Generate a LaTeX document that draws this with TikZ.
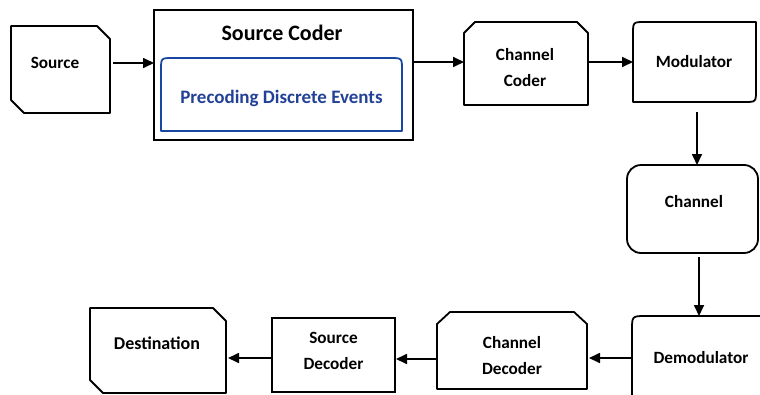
\documentclass[tikz,border=0pt]{standalone}
\usepackage{fontspec}
\setmainfont{Carlito}
\usetikzlibrary{calc,arrows.meta}
\definecolor{inblue}{RGB}{25,70,160}
\definecolor{txtblue}{RGB}{35,65,150}
\begin{document}
\begin{tikzpicture}[x=1pt,y=-1pt,
  box/.style={draw=none,inner sep=0pt,outer sep=0pt},
  edge/.style={line width=1.8pt,line join=round},
  framebox/.style={draw,line width=1.8pt,inner sep=0pt,outer sep=0pt},
  arr/.style={line width=1.7pt,-{Triangle[length=11pt,width=10pt]}},
  lbl/.style={font=\fontsize{17.2}{26}\selectfont\bfseries,align=center,inner sep=0pt}]
\path[use as bounding box] (0,0) rectangle (760,394);
\begin{scope}
\clip (0,0) rectangle (760,394);
% Source
\node[box,minimum width=99pt,minimum height=87pt] (src) at (60.5,69.5) {};
\draw[edge] (src.north west) -- ($(src.north east)+(-13,0)$) -- ($(src.north east)+(0,13)$)
  -- (src.south east) -- ($(src.south west)+(13,0)$) -- ($(src.south west)+(0,-13)$) -- cycle;
\node[lbl] (srct) at (55,63) {Source};
% Source Coder
\node[framebox,line width=2.2pt,minimum width=259pt,minimum height=130pt] (sc) at (283.5,75) {};
\node[lbl,font=\fontsize{22}{24}\selectfont\bfseries] (sct) at (282,33) {Source Coder};
\node[box,minimum width=241pt,minimum height=73pt] (pre) at (281.5,94.5) {};
\draw[edge,draw=inblue] (pre.south west) -- ($(pre.north west)+(0,12)$) .. controls (pre.north west) .. ($(pre.north west)+(12,0)$)
  -- ($(pre.north east)+(-12,0)$) .. controls (pre.north east) .. ($(pre.north east)+(0,12)$) -- (pre.south east) -- cycle;
\node[lbl,text=txtblue,font=\fontsize{19}{22}\selectfont\bfseries] (pret) at (281.5,98) {Precoding Discrete Events};
% Channel Coder
\node[box,minimum width=124pt,minimum height=83pt] (cc) at (526,63.5) {};
\draw[edge] (cc.south west) -- ($(cc.north west)+(0,11)$) -- ($(cc.north west)+(11,0)$)
  -- ($(cc.north east)+(-11,0)$) -- ($(cc.north east)+(0,11)$) -- (cc.south east) -- cycle;
\node[lbl] (cct) at (525,68) {Channel\\Coder};
% Modulator
\node[box,minimum width=123pt,minimum height=80pt] (mod) at (694.5,62) {};
\draw[edge] ($(mod.north west)+(0,12)$) .. controls (mod.north west) .. ($(mod.north west)+(12,0)$)
  -- (mod.north east) -- ($(mod.south east)+(0,-12)$) .. controls (mod.south east) .. ($(mod.south east)+(-12,0)$)
  -- (mod.south west) -- cycle;
\node[lbl] (modt) at (694,62) {Modulator};
% Channel
\node[framebox,rounded corners=14pt,minimum width=131pt,minimum height=88pt] (ch) at (692.5,209) {};
\node[lbl] (cht) at (694,202) {Channel};
% Demodulator
\node[box,minimum width=140pt,minimum height=90pt] (dem) at (702,361) {};
\draw[edge] (dem.south west) -- ($(dem.north west)+(0,14)$) .. controls (dem.north west) .. ($(dem.north west)+(14,0)$)
  -- (dem.north east);
\node[lbl] (demt) at (701,358) {Demodulator};
% Channel Decoder
\node[box,minimum width=150pt,minimum height=77pt] (cd) at (512,350.5) {};
\draw[edge] (cd.south west) -- ($(cd.north west)+(0,12)$) -- ($(cd.north west)+(13,0)$)
  -- ($(cd.north east)+(-13,0)$) -- ($(cd.north east)+(0,12)$) -- (cd.south east) -- cycle;
\node[lbl] (cdt) at (512,355.5) {Channel\\Decoder};
% Source Decoder
\node[framebox,minimum width=123pt,minimum height=74pt] (sd) at (333.5,355) {};
\node[lbl] (sdt) at (333.5,350.5) {Source\\Decoder};
% Destination
\node[box,minimum width=136pt,minimum height=85pt] (dst) at (158,350.5) {};
\draw[edge] (dst.north west) -- ($(dst.north east)+(-13,0)$) -- ($(dst.north east)+(0,13)$)
  -- (dst.south east) -- ($(dst.south west)+(13,0)$) -- ($(dst.south west)+(0,-13)$) -- cycle;
\node[lbl,font=\fontsize{18}{26}\selectfont\bfseries] (dstt) at (157,343) {Destination};
\end{scope}
% connectors
\coordinate (m1) at ($(mod.south)+(2.5,10)$);
\coordinate (c1) at ($(ch.south)+(6.5,4)$);
\coordinate (cdw) at ($(cd.west)+(0,8.5)$);
\draw[arr] ($(src.east |- srct)+(3,0)$) -- (sc.west |- srct);
\draw[arr] (sc.east |- modt) -- (cc.west |- modt);
\draw[arr] (cc.east |- modt) -- (mod.west |- modt);
\draw[arr] (m1) -- (m1 |- ch.north);
\draw[arr] (c1) -- (c1 |- dem.north);
\draw[arr] (dem.west |- demt) -- ($(cd.east |- demt)+(2,0)$);
\draw[arr] (cdw) -- ($(sd.east |- cdw)+(1,0)$);
\draw[arr] (sd.west |- demt) -- ($(dst.east |- demt)+(2,0)$);
\end{tikzpicture}
\end{document}
